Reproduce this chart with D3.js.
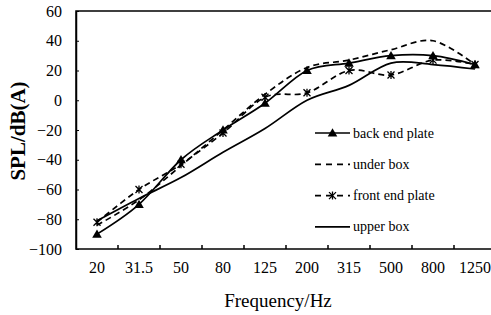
<!DOCTYPE html>
<html><head><meta charset="utf-8">
<script src="https://cdn.jsdelivr.net/npm/d3@7"></script>
<style>body{margin:0;background:#fff}svg{display:block}text{font-family:"Liberation Serif","Times New Roman",serif;fill:#000}</style>
</head><body><svg id="c" width="491" height="315"></svg>
<script>
const categories = ["20","31.5","50","80","125","200","315","500","800","1250"];
const backEndPlate = [-90,-70,-40,-20,-2,20,25,30,30,24];
const underBox = [-84,-67,-44,-20,4,22,27,34,40,24];
const frontEndPlate = [-82,-60,-43,-22,2,5,20,17,27,24];
const upperBox = [-81,-66,-52,-35,-19,0,10,25,24,21];
const yTicks = [60,40,20,0,-20,-40,-60,-80,-100];
const seriesNames = ["back end plate","under box","front end plate","upper box"];

const svg = d3.select("#c");
const m = {l:76, t:11, w:420, h:238};
const x = d3.scaleBand().domain(categories).range([m.l, m.l+m.w]);
const y = d3.scaleLinear().domain([-100,60]).range([m.t+m.h, m.t]);

// frame
svg.append("rect").attr("x",m.l).attr("y",m.t).attr("width",m.w).attr("height",m.h)
  .attr("fill","none").attr("stroke","#000").attr("stroke-width",1.5);

// y ticks (inside)
const yAx = svg.append("g").attr("transform",`translate(${m.l},0)`)
  .call(d3.axisLeft(y).tickValues(yTicks).tickSizeInner(-3).tickSizeOuter(0).tickPadding(14));
yAx.select(".domain").attr("stroke","#000").attr("stroke-width",1.5);
yAx.selectAll("text").attr("font-size",16).style("font-family","Liberation Serif");

// x ticks between categories (inside)
const bounds = categories.slice(1).map(c => x(c));
svg.append("g").selectAll("line").data(bounds).join("line")
  .attr("x1",d=>d).attr("x2",d=>d).attr("y1",m.t+m.h).attr("y2",m.t+m.h-4)
  .attr("stroke","#000").attr("stroke-width",1.5);
svg.append("g").selectAll("text").data(categories).join("text")
  .attr("x",d=>x(d)+x.bandwidth()/2).attr("y",273).attr("text-anchor","middle")
  .attr("font-size",16).text(d=>d);

// titles
svg.append("text").attr("x",278).attr("y",307).attr("text-anchor","middle")
  .attr("font-size",19).text("Frequency/Hz");
svg.append("text").attr("transform","translate(25,131) rotate(-90)").attr("text-anchor","middle")
  .attr("font-size",21).attr("font-weight","bold").text("SPL/dB(A)");

const cx = c => x(c) + x.bandwidth()/2;
const line = d3.line().x((d,i)=>cx(categories[i])).y(d=>y(d)).curve(d3.curveCatmullRom.alpha(0));

const series = [
  {name:seriesNames[0], data:backEndPlate, dash:null, marker:"tri"},
  {name:seriesNames[1], data:underBox, dash:"6,4", marker:null},
  {name:seriesNames[2], data:frontEndPlate, dash:"6,4", marker:"star"},
  {name:seriesNames[3], data:upperBox, dash:null, marker:null}
];

const triPath = d3.symbol().type(d3.symbolTriangle).size(40)();
const starPath = "M-3.5,-3.5L3.5,3.5M-3.5,3.5L3.5,-3.5M0,-4L0,4";
function drawMarker(g, type, px, py){
  if(type==="tri") g.append("path").attr("d",triPath).attr("transform",`translate(${px},${py+0.8})`).attr("fill","#000");
  if(type==="star") g.append("path").attr("d",starPath).attr("transform",`translate(${px},${py})`).attr("stroke","#000").attr("stroke-width",1.3).attr("fill","none");
}

series.forEach(s=>{
  const g = svg.append("g");
  g.append("path").attr("d",line(s.data)).attr("fill","none").attr("stroke","#000")
    .attr("stroke-width",1.7).attr("stroke-dasharray",s.dash);
  if(s.marker) s.data.forEach((v,i)=>drawMarker(g,s.marker,cx(categories[i]),y(v)));
});

// legend
const lg = svg.append("g");
series.forEach((s,i)=>{
  const ly = 133 + i*31.3;
  lg.append("line").attr("x1",315).attr("x2",350).attr("y1",ly).attr("y2",ly)
    .attr("stroke","#000").attr("stroke-width",1.7).attr("stroke-dasharray",s.dash ? "6,5" : null);
  if(s.marker) drawMarker(lg,s.marker,332.5,ly);
  lg.append("text").attr("x",353).attr("y",ly+4.5).attr("font-size",14).text(s.name);
});
</script></body></html>
